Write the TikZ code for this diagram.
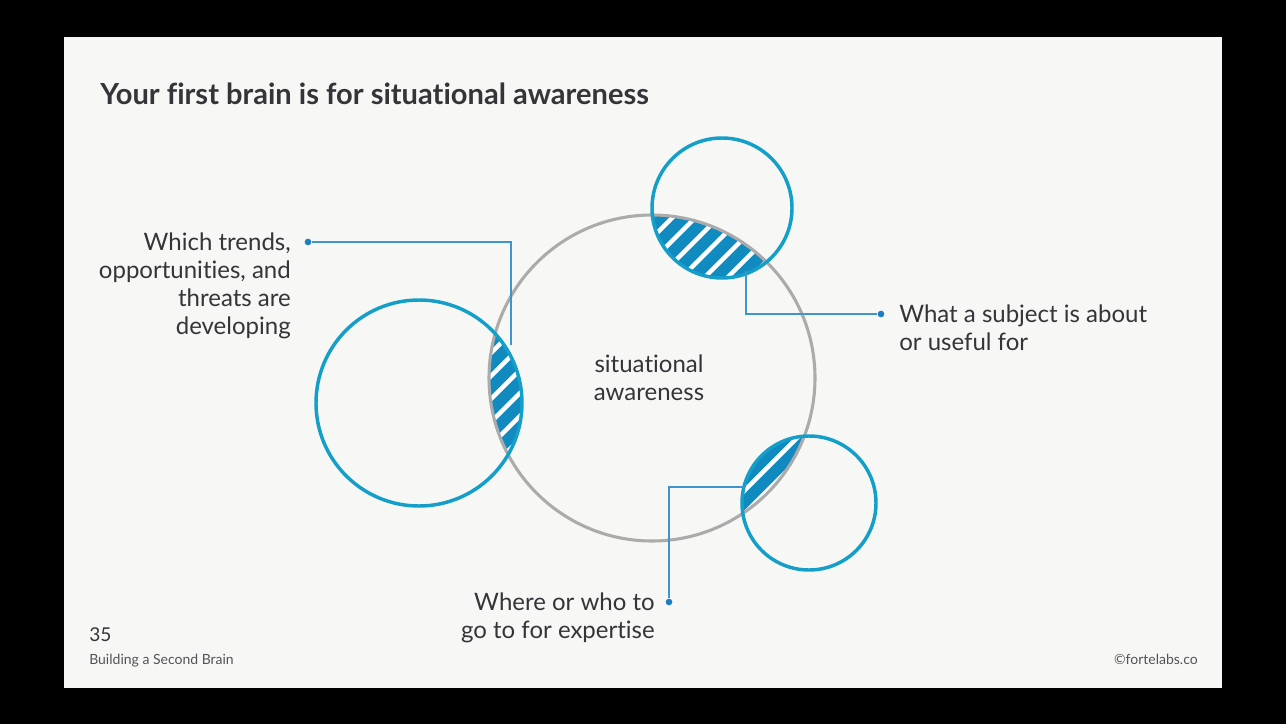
\documentclass[tikz,border=0pt]{standalone}
\usepackage{fontspec}
\setmainfont{Lato}[Ligatures=NoCommon]
\definecolor{bg}{HTML}{F7F7F5}
\definecolor{ringblue}{HTML}{139FC9}
\definecolor{fillblue}{HTML}{118AC0}
\definecolor{lineblue}{HTML}{3C95CC}
\definecolor{dotblue}{HTML}{1B7EC2}
\definecolor{ringgrey}{HTML}{ABABAB}
\definecolor{txt}{HTML}{333538}
\begin{document}
\begin{tikzpicture}[x=0.75pt,y=-0.75pt,
  ring/.style={draw=ringblue,line width=2.6pt},
  greyring/.style={draw=ringgrey,line width=2.3pt},
  conn/.style={draw=lineblue,line width=0.8pt},
  dot/.style={circle,fill=dotblue,inner sep=0pt,minimum size=5pt},
  lbl/.style={text=txt,font=\fontsize{18}{21}\selectfont,inner sep=0pt},
  stripe/.style={draw=white,line width=3.4pt}]
\useasboundingbox (0,0) rectangle (1286,724);
\fill[black] (0,0) rectangle (1286,724);
\fill[bg] (64,37) rectangle (1222,688);
% title
\node[anchor=base west,inner sep=0pt,text=txt,font=\fontsize{21.8}{25}\selectfont\bfseries] (title) at (100,105) {Your first brain is for situational awareness};
% lenses
\foreach \cx/\cy/\r in {722/208/70, 419/403/103, 809/503/67}{
  \begin{scope}
    \clip (652,378) circle[radius=163];
    \clip (\cx,\cy) circle[radius=\r];
    \fill[fillblue] (\cx,\cy) circle[radius=\r];
    \foreach \k in {0,...,60}{
      \draw[stripe] (\k*23+200,0) -- ++(-700,700);
    }
  \end{scope}
}
% circles
\draw[greyring] (652,378) circle[radius=163];
\draw[ring] (722,208) circle[radius=70];
\draw[ring] (419,403) circle[radius=103];
\draw[ring] (809,503) circle[radius=67];
% centre label
\node[lbl,align=center,anchor=base] (centre) at (649,400) {situational\\awareness};
% left label and connector
\node[lbl,align=right,anchor=base east] (ltext) at (291,334) {Which trends,\\opportunities, and\\threats are\\developing};
\node[dot] (ldot) at (308,242) {};
\coordinate (lbend) at (511,242);
\coordinate (lend) at (511,345);
\draw[conn] (ldot) -- (lbend) -- (lend);
% right label and connector
\node[lbl,align=left,anchor=base west] (rtext) at (899,350) {What a subject is about\\or useful for};
\node[dot] (rdot) at (881,314) {};
\coordinate (rstart) at (746,271);
\coordinate (rbend) at (746,314);
\draw[conn] (rstart) -- (rbend) -- (rdot);
% bottom label and connector
\node[lbl,align=right,anchor=base east] (btext) at (655,638) {Where or who to\\go to for expertise};
\node[dot] (bdot) at (669,602) {};
\coordinate (bstart) at (745,487);
\coordinate (bbend) at (669,487);
\draw[conn] (bstart) -- (bbend) -- (bdot);
% footer
\node[anchor=base west,inner sep=0pt,text=txt,font=\fontsize{14.3}{16}\selectfont] (num) at (89,641) {35};
\node[anchor=base west,inner sep=0pt,text=txt!85,font=\fontsize{10.5}{12}\selectfont] (book) at (89,664) {Building a Second Brain};
\node[anchor=base east,inner sep=0pt,text=txt!85,font=\fontsize{10.5}{12}\selectfont] (copy) at (1198,664) {©fortelabs.co};
\end{tikzpicture}
\end{document}
